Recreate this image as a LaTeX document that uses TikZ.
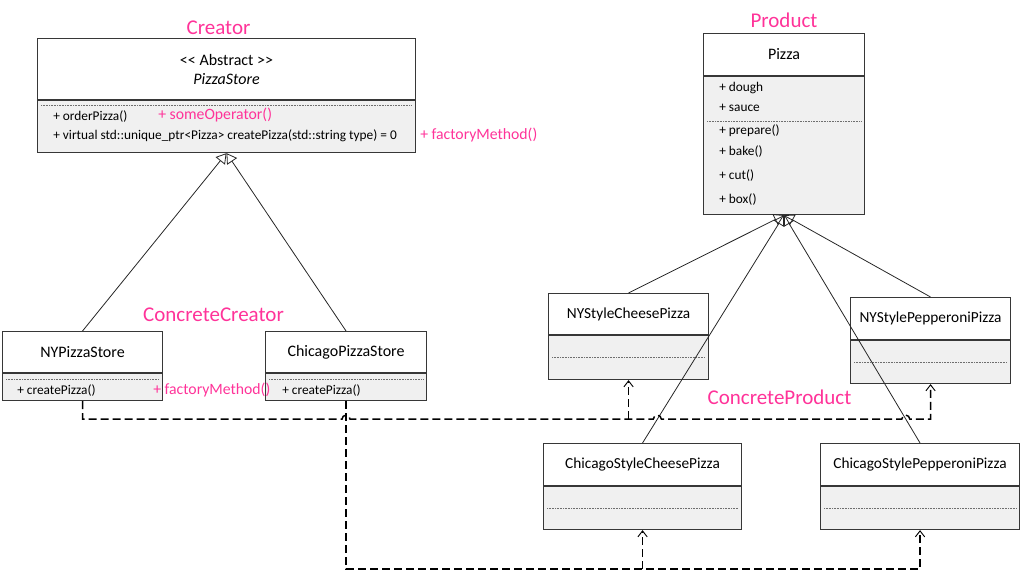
\documentclass[tikz,border=0pt]{standalone}
\usepackage{fontspec}
\setmainfont{Carlito}
\usetikzlibrary{arrows.meta,calc,intersections}
\definecolor{rolepink}{RGB}{255,51,153}
\definecolor{boxline}{RGB}{55,55,55}
\definecolor{bodyfill}{RGB}{240,240,240}
\definecolor{sepgray}{RGB}{110,110,110}
\begin{document}
\begin{tikzpicture}[x=0.75pt,y=-0.75pt,
  hdr/.style={draw=boxline, fill=white, line width=0.8pt, inner sep=0pt, anchor=north west, align=center, font=\fontsize{12}{14.25}\selectfont},
  bdy/.style={draw=boxline, fill=bodyfill, line width=0.8pt, inner sep=0pt, anchor=north west},
  sz/.style 2 args={minimum width=#1*0.75pt, minimum height=#2*0.75pt},
  subname/.style={font=\fontsize{11.5}{14}\selectfont},
  member/.style={anchor=base west, inner sep=0pt, font=\fontsize{10}{12}\selectfont},
  role/.style={anchor=base, inner sep=0pt, text=rolepink, font=\fontsize{15.75}{18}\selectfont},
  rolesmall/.style={anchor=base west, inner sep=0pt, text=rolepink, font=\fontsize{11.8}{14}\selectfont},
  sep/.style={draw=sepgray, line width=0.6pt, dash pattern=on 0.6pt off 0.6pt},
  gen/.style={draw=black!85, line width=0.6pt, -{Triangle[open,length=7.5pt,width=9pt,line width=0.6pt]}},
  dep/.style={draw=black, line width=1.1pt, dash pattern=on 6pt off 3pt, -{Straight Barb[length=4.5pt,width=7pt,line width=0.7pt]}},
]
\useasboundingbox (0,0) rectangle (1021,570);

% ---------- Creator: PizzaStore ----------
\node[hdr, sz={378}{61}] (psH) at (37,38) {<\kern0pt< Abstract >\kern0pt>\\\textit{PizzaStore}};
\node[bdy, sz={378}{52}] (psB) at (psH.south west) {};
\draw[sep] ($(psB.north west)+(4,5)$) -- ($(psB.north east)+(-4,5)$);
\node[member] (psM1) at (53,120.5) {+ orderPizza()};
\node[member] (psM2) at (53,139.5) {+ virtual std::unique\_ptr<Pizza> createPizza(std::string type) = 0};
\node[rolesmall] (psOp) at (158,120) {+ someOperator()};
\node[rolesmall] (psFm) at (420,139.5) {+ factoryMethod()};
\node[role] (lCreator) at (218.5,34.5) {Creator};

% ---------- Product: Pizza ----------
\node[hdr, sz={161}{42}] (pzH) at (703,33) {Pizza};
\node[bdy, sz={161}{138}] (pzB) at (pzH.south west) {};
\draw[sep] ($(pzB.north west)+(4,45)$) -- ($(pzB.north east)+(-4,45)$);
\node[member] (pzM1) at (719,91.5) {+ dough};
\node[member] (pzM2) at (719,111.5) {+ sauce};
\node[member] (pzM3) at (719,134.5) {+ prepare()};
\node[member] (pzM4) at (719,155.5) {+ bake()};
\node[member] (pzM5) at (719,179.5) {+ cut()};
\node[member] (pzM6) at (719,203.5) {+ box()};
\node[role] (lProduct) at (784,27.5) {Product};

% ---------- ConcreteCreator ----------
\node[hdr, sz={160}{41}] (nyH) at (2,331) {NYPizzaStore};
\node[bdy, sz={160}{27}] (nyB) at (nyH.south west) {};
\draw[sep] ($(nyB.north west)+(4,6)$) -- ($(nyB.north east)+(-4,6)$);
\node[member] (nyM1) at (17,394) {+ createPizza()};

\node[hdr, sz={161}{41}] (chH) at (265,331) {ChicagoPizzaStore};
\node[bdy, sz={161}{27}] (chB) at (chH.south west) {};
\draw[sep] ($(chB.north west)+(4,6)$) -- ($(chB.north east)+(-4,6)$);
\node[member] (chM1) at (282,394) {+ createPizza()};

\node[rolesmall] (ccFm) at (153,394.5) {+ factoryMethod()};
\node[role] (lConcreteCreator) at (213.5,321) {ConcreteCreator};

% ---------- ConcreteProduct ----------
\node[hdr, subname, sz={160}{41}] (nycH) at (548,293) {NYStyleCheesePizza};
\node[bdy, sz={160}{44}] (nycB) at (nycH.south west) {};
\draw[sep] ($(nycB.north west)+(4,22)$) -- ($(nycB.north east)+(-4,22)$);

\node[hdr, subname, sz={160}{42}] (nypH) at (850,297) {NYStylePepperoniPizza};
\node[bdy, sz={160}{43}] (nypB) at (nypH.south west) {};
\draw[sep] ($(nypB.north west)+(4,22)$) -- ($(nypB.north east)+(-4,22)$);

\node[hdr, subname, sz={198}{42}] (cccH) at (543,443) {ChicagoStyleCheesePizza};
\node[bdy, sz={198}{43}] (cccB) at (cccH.south west) {};
\draw[sep] ($(cccB.north west)+(4,22)$) -- ($(cccB.north east)+(-4,22)$);

\node[hdr, subname, sz={199}{42}] (ccpH) at (820,443) {ChicagoStylePepperoniPizza};
\node[bdy, sz={199}{43}] (ccpB) at (ccpH.south west) {};
\draw[sep] ($(ccpB.north west)+(4,22)$) -- ($(ccpB.north east)+(-4,22)$);

\node[role] (lConcreteProduct) at (779.5,404) {ConcreteProduct};

% ---------- generalisation ----------
\draw[gen] (nyH.north) -- (psB.south);
\draw[gen] (chH.north) -- (psB.south);
\draw[gen] (nycH.north) -- (pzB.south);
\draw[gen] (nypH.north) -- (pzB.south);
\draw[gen, name path=toCCC] (cccH.north) -- (pzB.south);
\draw[gen, name path=toCCP] (ccpH.north) -- (pzB.south);

% ---------- dependencies ----------
\coordinate (bus1) at ($(nyB.south)+(0,18)$);
\coordinate (bus2) at ($(chB.south)+(0,168)$);
\path[name path=busNY] (bus1) -- (bus1 -| nypB.south);
\path[name intersections={of=busNY and toCCC, by=hopA}];
\path[name intersections={of=busNY and toCCP, by=hopB}];

\draw[dep] (nyB.south) -- (bus1)
  -- ($(bus1 -| chB.south)+(-4,0)$) arc[start angle=180, end angle=360, radius=4]
  -- ($(hopA)+(-4,0)$) arc[start angle=180, end angle=360, radius=4]
  -- ($(hopB)+(-4,0)$) arc[start angle=180, end angle=360, radius=4]
  -| (nypB.south);
\draw[dep] (bus1 -| nycB.south) -- (nycB.south);

\draw[dep] (chB.south) -- (bus2) -| (ccpB.south);
\draw[dep] (bus2 -| cccB.south) -- (cccB.south);
\end{tikzpicture}
\end{document}
